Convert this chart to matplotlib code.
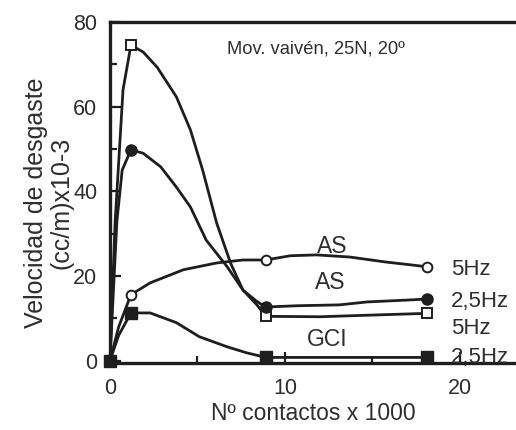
import matplotlib
matplotlib.use('Agg')
from matplotlib import pyplot as plt
from matplotlib.ticker import MultipleLocator

plt.rcParams['font.family'] = ['Liberation Sans', 'DejaVu Sans']

# Measured points (markers), N contacts x 1000 vs wear rate
x_meas = [0, 1.2, 8.9, 18.1]
as5_sq = [0, 74.5, 10.5, 11.2]      # AS 5Hz, open squares
as25_ci = [0, 49.8, 12.7, 14.6]     # AS 2.5Hz, filled circles
as5_ci = [0, 15.6, 23.8, 22.2]      # AS 5Hz, open circles
gci25_sq = [0, 11.3, 0.8, 0.8]      # GCI 2.5Hz, filled squares

# Hand-drawn curves
sq5_x = [0, 0.3, 0.75, 1.2, 1.9, 2.7, 3.8, 4.6, 5.3, 6.1, 6.9, 7.6, 8.4, 8.9, 12, 15, 18.1]
sq5_y = [0, 33, 64, 74.5, 72.9, 69.3, 62.3, 54.5, 45, 32.5, 23, 16.7, 13.2, 10.5, 10.4, 10.8, 11.2]
ci25_x = [0, 0.4, 0.7, 1.2, 1.9, 2.9, 3.8, 4.6, 5.5, 6.7, 7.6, 8.4, 8.9, 10.7, 13.1, 14.7, 17.3, 18.1]
ci25_y = [0, 33, 45, 49.8, 49, 45.8, 41, 36.3, 28.5, 22.2, 16.7, 14, 12.7, 13, 13.2, 13.9, 14.4, 14.6]
ci5_x = [0, 0.5, 1.2, 2.3, 4.2, 6.1, 7.6, 8.9, 10.3, 11.8, 13.7, 15.8, 17.3, 18.1]
ci5_y = [0, 8, 15.6, 18.4, 21.5, 23.1, 23.8, 23.8, 24.8, 25, 24.5, 23.3, 22.6, 22.2]
gci_x = [0, 0.5, 1.2, 2.3, 3.8, 5.1, 6.7, 7.8, 8.9, 18.1]
gci_y = [0, 6, 11.3, 11.3, 9, 5.7, 3.3, 1.9, 0.8, 0.8]

ink = '#1e1e1e'
txt = '#2e2e2e'
lw = 2.0

fig = plt.figure(figsize=(5.16, 4.30), dpi=100)
ax = fig.add_axes([0.213, 0.156, 0.787, 0.793])

ax.plot(sq5_x, sq5_y, color=ink, lw=lw, solid_capstyle='round')
ax.plot(ci25_x, ci25_y, color=ink, lw=lw, solid_capstyle='round')
ax.plot(ci5_x, ci5_y, color=ink, lw=lw, solid_capstyle='round')
ax.plot(gci_x, gci_y, color=ink, lw=lw, solid_capstyle='round')

ax.plot(x_meas[1:], as5_sq[1:], 's', ms=7.5, mfc='white', mec=ink, mew=1.4, clip_on=False)
ax.plot(x_meas[1:], as25_ci[1:], 'o', ms=8, mfc=ink, mec=ink, clip_on=False)
ax.plot(x_meas[1:], as5_ci[1:], 'o', ms=7, mfc='white', mec=ink, mew=1.4, clip_on=False)
ax.plot(x_meas, gci25_sq, 's', ms=8, mfc=ink, mec=ink, clip_on=False, zorder=5)

ax.set_xlim(0, 23.2)
ax.set_ylim(-0.5, 80)
ax.xaxis.set_major_locator(MultipleLocator(10))
ax.xaxis.set_minor_locator(MultipleLocator(5))
ax.yaxis.set_major_locator(MultipleLocator(20))
ax.yaxis.set_minor_locator(MultipleLocator(10))
ax.tick_params(which='both', direction='in', color=ink, width=1.6, labelsize=15.5, labelcolor=txt)
ax.tick_params(which='major', length=8)
ax.tick_params(axis='x', which='major', pad=11)
ax.tick_params(axis='y', which='major', pad=9)
ax.tick_params(which='minor', length=5)
ax.tick_params(top=False, right=False)

for side in ['left', 'bottom', 'top']:
    ax.spines[side].set_linewidth(2.4)
    ax.spines[side].set_color(ink)
ax.spines['right'].set_visible(False)

ax.set_xlabel('Nº contactos x 1000', fontsize=16.5, color=txt, labelpad=2)
ax.set_ylabel('Velocidad de desgaste\n(cc/m)x10-3', fontsize=18, color=txt, labelpad=0, linespacing=1.05)
ax.yaxis.label.set_y(0.47)

ax.text(6.7, 73.6, 'Mov. vaivén, 25N, 20º', fontsize=13.2, color=txt, va='center')
ax.text(12.7, 26.9, 'AS', fontsize=16.5, color=txt, ha='center', va='center')
ax.text(12.6, 18.4, 'AS', fontsize=16.5, color=txt, ha='center', va='center')
ax.text(12.4, 5.0, 'GCI', fontsize=16.5, color=txt, ha='center', va='center')
ax.text(19.5, 21.5, '5Hz', fontsize=16, color=txt, va='center')
ax.text(19.5, 13.9, '2,5Hz', fontsize=16, color=txt, va='center')
ax.text(19.5, 7.7, '5Hz', fontsize=16, color=txt, va='center')
ax.text(19.5, 0.7, '2,5Hz', fontsize=16, color=txt, va='center', clip_on=False)

plt.savefig('out.png', dpi=100)
